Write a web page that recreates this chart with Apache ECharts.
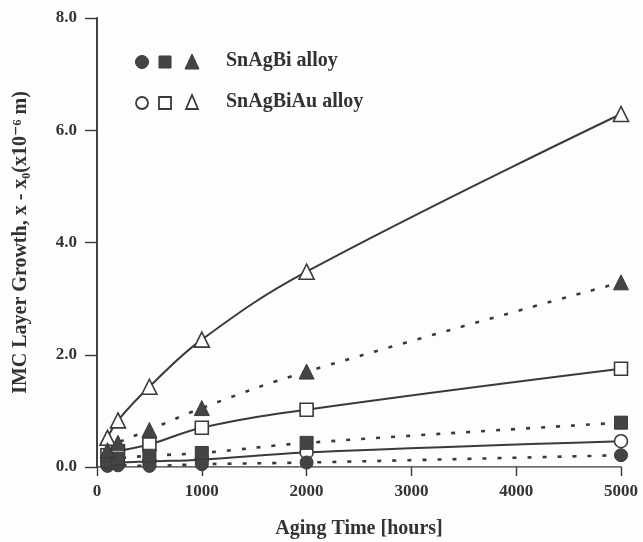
<!DOCTYPE html>
<html>
<head>
<meta charset="utf-8">
<script src="https://cdn.jsdelivr.net/npm/echarts@6/dist/echarts.min.js"></script>
<style>
  html, body { margin: 0; padding: 0; background: #fdfdfd; }
  #chart { width: 643px; height: 542px; }
</style>
</head>
<body>
<div id="chart"></div>
<script>
// aging times (hours)
const hours = [100, 200, 500, 1000, 2000, 5000];
const xTicks = [0, 1000, 2000, 3000, 4000, 5000];
const yTicks = [0, 2, 4, 6, 8];

// SnAgBi alloy (filled symbols, dotted lines)
const bi_circle = [0.02, 0.03, 0.02, 0.05, 0.08, 0.21];
const bi_square = [0.1, 0.15, 0.2, 0.25, 0.43, 0.79];
const bi_triangle = [0.3, 0.43, 0.66, 1.05, 1.7, 3.29];

// SnAgBiAu alloy (open symbols, solid lines)
const au_circle = [0.06, 0.08, 0.1, 0.13, 0.26, 0.46];
const au_square = [0.21, 0.28, 0.4, 0.7, 1.02, 1.75];
const au_triangle = [0.52, 0.83, 1.43, 2.27, 3.48, 6.29];

const ink = '#3a3a3a';
const font = '"Liberation Serif", "DejaVu Serif", serif';

function pairs(vals) {
    return hours.map((h, i) => [h, vals[i]]);
}

function makeSeries(name, vals, symbol, filled) {
    return {
        name: name,
        type: 'line',
        smooth: 0.4,
        data: pairs(vals),
        symbol: symbol,
        symbolSize: symbol === 'triangle' ? 15 : 13,
        showAllSymbol: true,
        itemStyle: {
            color: filled ? '#444' : '#fdfdfd',
            borderColor: ink,
            borderWidth: filled ? 1 : 1.6
        },
        lineStyle: {
            color: ink,
            width: filled ? 2.6 : 2,
            type: filled ? [4, 11] : 'solid'
        },
        z: filled ? 3 : 2
    };
}

const chart = echarts.init(document.getElementById('chart'));

const option = {
    backgroundColor: '#fdfdfd',
    animation: false,
    grid: { left: 97, right: 22, top: 18, bottom: 75, containLabel: false, outerBoundsMode: 'none' },
    xAxis: [{
        type: 'value',
        min: xTicks[0],
        max: xTicks[xTicks.length - 1],
        interval: 1000,
        name: 'Aging Time [hours]',
        nameLocation: 'middle',
        nameGap: 52,
        nameTextStyle: { fontFamily: font, fontWeight: 'bold', fontSize: 20, color: '#333' },
        axisLine: { lineStyle: { color: ink, width: 1.6 } },
        axisTick: { inside: false, length: 9, lineStyle: { color: ink, width: 1.4 } },
        axisLabel: {
            fontFamily: font, fontWeight: 'bold', fontSize: 17, color: '#333', margin: 16,
            formatter: v => String(v)
        },
        splitLine: { show: false }
    }, {
        type: 'value',
        position: 'top',
        min: 0, max: 5000,
        axisLine: { show: true, lineStyle: { color: '#9a9a9a', width: 1.2 } },
        axisTick: { show: false },
        axisLabel: { show: false },
        splitLine: { show: false }
    }],
    yAxis: [{
        type: 'value',
        min: yTicks[0],
        max: yTicks[yTicks.length - 1],
        interval: 2,
        name: 'IMC Layer Growth, x - x\u2080(x10\u207B\u2076 m)',
        nameLocation: 'middle',
        nameGap: 66,
        nameTextStyle: { fontFamily: font, fontWeight: 'bold', fontSize: 20, color: '#333' },
        axisLine: { show: true, lineStyle: { color: ink, width: 1.6 } },
        axisTick: { show: true, inside: false, length: 12, lineStyle: { color: ink, width: 1.4 } },
        axisLabel: {
            fontFamily: font, fontWeight: 'bold', fontSize: 17, color: '#333', margin: 20,
            formatter: v => v.toFixed(1)
        },
        splitLine: { show: false }
    }, {
        type: 'value',
        position: 'right',
        min: 0, max: 8,
        axisLine: { show: true, lineStyle: { color: ink, width: 1.6 } },
        axisTick: { show: false },
        axisLabel: { show: false },
        splitLine: { show: false }
    }],
    series: [
        makeSeries('SnAgBiAu circle', au_circle, 'circle', false),
        makeSeries('SnAgBiAu square', au_square, 'rect', false),
        makeSeries('SnAgBiAu triangle', au_triangle, 'triangle', false),
        makeSeries('SnAgBi circle', bi_circle, 'circle', true),
        makeSeries('SnAgBi square', bi_square, 'rect', true),
        makeSeries('SnAgBi triangle', bi_triangle, 'triangle', true)
    ],
    graphic: [
        // legend row 1: filled symbols
        { type: 'circle', shape: { cx: 142, cy: 62, r: 6.5 }, style: { fill: '#444', stroke: ink } },
        { type: 'rect', shape: { x: 159, y: 56, width: 12, height: 12 }, style: { fill: '#444', stroke: ink } },
        { type: 'polygon', shape: { points: [[192, 54], [185, 69], [199, 69]] }, style: { fill: '#444', stroke: ink } },
        { type: 'text', left: 226, top: 51, style: { text: 'SnAgBi alloy', font: 'bold 20px ' + font, fill: '#333' } },
        // legend row 2: open symbols
        { type: 'circle', shape: { cx: 142, cy: 103, r: 6 }, style: { fill: 'none', stroke: ink, lineWidth: 1.8 } },
        { type: 'rect', shape: { x: 159, y: 97, width: 12, height: 12 }, style: { fill: 'none', stroke: ink, lineWidth: 1.8 } },
        { type: 'polygon', shape: { points: [[192, 95], [186, 109], [198, 109]] }, style: { fill: 'none', stroke: ink, lineWidth: 1.8 } },
        { type: 'text', left: 226, top: 92, style: { text: 'SnAgBiAu alloy', font: 'bold 20px ' + font, fill: '#333' } }
    ]
};

chart.setOption(option);
</script>
</body>
</html>
